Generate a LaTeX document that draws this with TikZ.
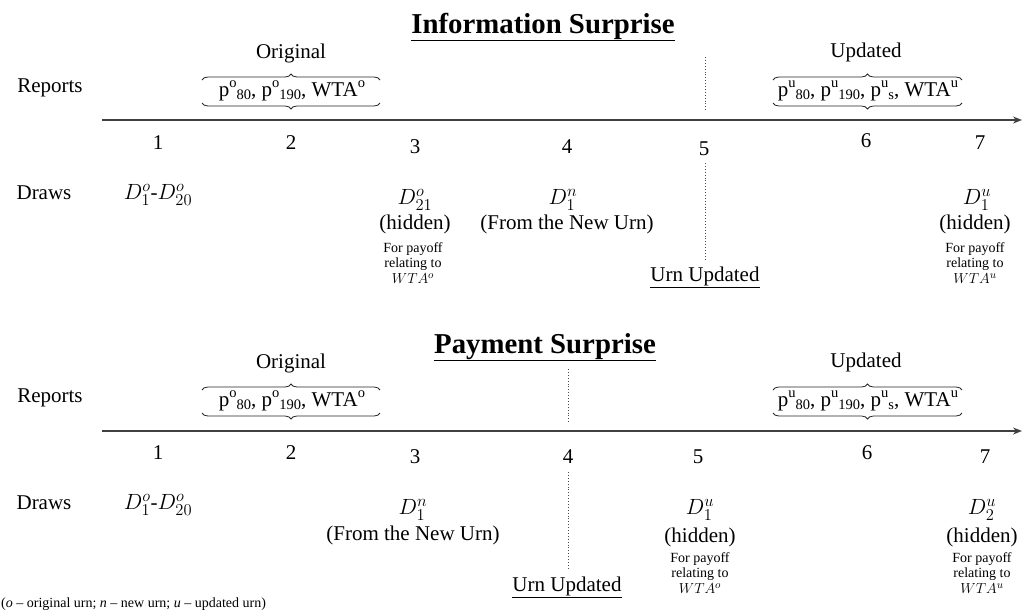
\RequirePackage{fix-cm}
\documentclass[tikz,border=0pt]{standalone}
\usepackage{fontspec}
\setmainfont{Liberation Serif}
\DeclareMathSizes{21}{22}{16.5}{12}
\DeclareMathSizes{14}{14.5}{11}{8}
\usetikzlibrary{decorations.pathreplacing,arrows.meta}
\tikzset{
  lbl/.style={inner sep=0pt, font=\fontsize{21}{24}\selectfont},
  smalltxt/.style={inner sep=0pt, font=\fontsize{14}{15.5}\selectfont, align=center},
  ttl/.style={inner sep=0pt, font=\fontsize{28.8}{32}\selectfont\bfseries, anchor=base},
  axisline/.style={draw=black!75, line width=1.3pt, -{Stealth[length=9pt,width=7pt]}},
  sepline/.style={draw=black!70, dotted, line width=0.9pt},
  brc/.style={draw=black!85, decorate, decoration={brace, amplitude=6pt}, line width=0.8pt},
}
\newcommand{\sups}[1]{\raisebox{8.5pt}{\fontsize{14.5}{15}\selectfont #1}}
\newcommand{\subs}[1]{\raisebox{-3.5pt}{\fontsize{14.5}{15}\selectfont #1}}
\newcommand{\origrep}{p\sups{o}\subs{80}, p\sups{o}\subs{190}, WTA\sups{o}}
\newcommand{\updrep}{p\sups{u}\subs{80}, p\sups{u}\subs{190}, p\sups{u}\subs{s}, WTA\sups{u}}
\begin{document}
\begin{tikzpicture}[x=1pt,y=-1pt]
\useasboundingbox (0,0) rectangle (1023,614);
% ================= Information Surprise =================
\node[ttl] (T-title) at (543,33) {\underline{Information Surprise}};
\node[lbl] (T-reports) at (50,88) {Reports};
\node[lbl] (T-orig) at (291,53) {Original};
\node[lbl] (T-origrep) at (292,91) {\origrep};
\node[lbl] (T-upd) at (866,52) {Updated};
\node[lbl] (T-updrep) at (868,91) {\updrep};
\coordinate (T-ob1) at (202,80); \coordinate (T-ob2) at (380,80);
\coordinate (T-ob3) at (380,103); \coordinate (T-ob4) at (202,103);
\draw[brc] (T-ob1) -- (T-ob2);
\draw[brc] (T-ob3) -- (T-ob4);
\coordinate (T-ub1) at (773,80); \coordinate (T-ub2) at (962,80);
\coordinate (T-ub3) at (962,103); \coordinate (T-ub4) at (773,103);
\draw[brc] (T-ub1) -- (T-ub2);
\draw[brc] (T-ub3) -- (T-ub4);
\coordinate (T-ax0) at (102,120); \coordinate (T-ax1) at (1022,120);
\draw[axisline] (T-ax0) -- (T-ax1);
\node[lbl] (T-n1) at (158,143) {1};
\node[lbl] (T-n2) at (291,143) {2};
\node[lbl] (T-n3) at (415,147) {3};
\node[lbl] (T-n4) at (567,147) {4};
\node[lbl] (T-n5) at (704,149) {5};
\node[lbl] (T-n6) at (866,141) {6};
\node[lbl] (T-n7) at (980,143) {7};
\coordinate (T-s1) at (705,57); \coordinate (T-s2) at (705,112);
\coordinate (T-s3) at (705,163); \coordinate (T-s4) at (705,260);
\draw[sepline] (T-s1) -- (T-s2);
\draw[sepline] (T-s3) -- (T-s4);
\node[lbl] (T-draws) at (44,193) {Draws};
\node[lbl] (T-d1) at (158,195) {$D^{o}_{1}$-$D^{o}_{20}$};
\node[lbl] (T-d21) at (415,200) {$D^{o}_{21}$};
\node[lbl] (T-h1) at (415,224) {(hidden)};
\node[smalltxt] (T-p1) at (413,263) {For payoff\\relating to\\$WTA^{o}$};
\node[lbl] (T-dn) at (563,200) {$D^{n}_{1}$};
\node[lbl] (T-from) at (567,224) {(From the New Urn)};
\node[lbl] (T-urn) at (705,277) {\underline{Urn Updated}};
\node[lbl] (T-du) at (977,200) {$D^{u}_{1}$};
\node[lbl] (T-h2) at (975,224) {(hidden)};
\node[smalltxt] (T-p2) at (975,263) {For payoff\\relating to\\$WTA^{u}$};
% ================= Payment Surprise =================
\node[ttl] (B-title) at (545,353) {\underline{Payment Surprise}};
\node[lbl] (B-reports) at (50,398) {Reports};
\node[lbl] (B-orig) at (291,363) {Original};
\node[lbl] (B-origrep) at (292,401) {\origrep};
\node[lbl] (B-upd) at (866,362) {Updated};
\node[lbl] (B-updrep) at (868,401) {\updrep};
\coordinate (B-ob1) at (202,390); \coordinate (B-ob2) at (380,390);
\coordinate (B-ob3) at (380,413); \coordinate (B-ob4) at (202,413);
\draw[brc] (B-ob1) -- (B-ob2);
\draw[brc] (B-ob3) -- (B-ob4);
\coordinate (B-ub1) at (773,390); \coordinate (B-ub2) at (962,390);
\coordinate (B-ub3) at (962,413); \coordinate (B-ub4) at (773,413);
\draw[brc] (B-ub1) -- (B-ub2);
\draw[brc] (B-ub3) -- (B-ub4);
\coordinate (B-ax0) at (102,431); \coordinate (B-ax1) at (1022,431);
\draw[axisline] (B-ax0) -- (B-ax1);
\node[lbl] (B-n1) at (158,453) {1};
\node[lbl] (B-n2) at (291,453) {2};
\node[lbl] (B-n3) at (415,457) {3};
\node[lbl] (B-n4) at (568,457) {4};
\node[lbl] (B-n5) at (698,457) {5};
\node[lbl] (B-n6) at (867,453) {6};
\node[lbl] (B-n7) at (985,457) {7};
\coordinate (B-s1) at (568,369); \coordinate (B-s2) at (568,423);
\coordinate (B-s3) at (568,472); \coordinate (B-s4) at (568,570);
\draw[sepline] (B-s1) -- (B-s2);
\draw[sepline] (B-s3) -- (B-s4);
\node[lbl] (B-draws) at (44,503) {Draws};
\node[lbl] (B-d1) at (158,505) {$D^{o}_{1}$-$D^{o}_{20}$};
\node[lbl] (B-dn) at (413,510) {$D^{n}_{1}$};
\node[lbl] (B-from) at (413,535) {(From the New Urn)};
\node[lbl] (B-urn) at (567,587) {\underline{Urn Updated}};
\node[lbl] (B-du1) at (700,510) {$D^{u}_{1}$};
\node[lbl] (B-h1) at (700,537) {(hidden)};
\node[smalltxt] (B-p1) at (700,573) {For payoff\\relating to\\$WTA^{o}$};
\node[lbl] (B-du2) at (982,510) {$D^{u}_{2}$};
\node[lbl] (B-h2) at (982,537) {(hidden)};
\node[smalltxt] (B-p2) at (982,573) {For payoff\\relating to\\$WTA^{u}$};
\node[smalltxt, anchor=west] (note) at (1,604) {(\textit{o} – original urn; \textit{n} – new urn; \textit{u} – updated urn)};
\end{tikzpicture}
\end{document}
